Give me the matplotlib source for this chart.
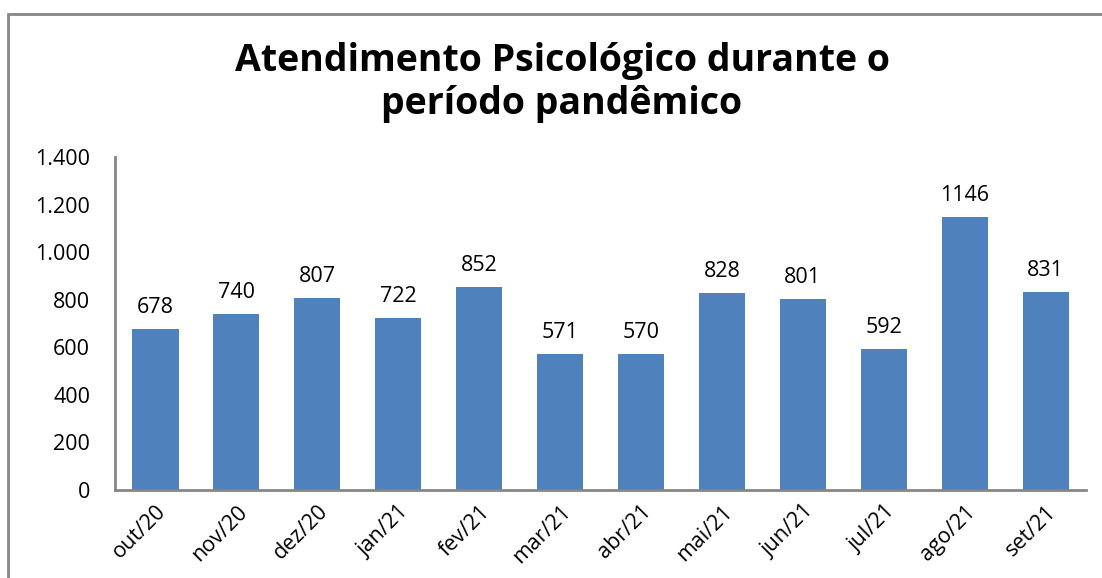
import matplotlib
matplotlib.use("Agg")
import matplotlib.pyplot as plt
from matplotlib.ticker import FuncFormatter
from matplotlib.patches import Rectangle

meses = ["out/20", "nov/20", "dez/20", "jan/21", "fev/21", "mar/21",
         "abr/21", "mai/21", "jun/21", "jul/21", "ago/21", "set/21"]
atendimentos = [678, 740, 807, 722, 852, 571, 570, 828, 801, 592, 1146, 831]
yticks = [0, 200, 400, 600, 800, 1000, 1200, 1400]

plt.rcParams["font.family"] = ["Open Sans", "DejaVu Sans"]

fig = plt.figure(figsize=(11.02, 5.78), dpi=100)
ax = fig.add_axes([0.1044, 0.1522, 0.8811, 0.5762])

x = range(len(meses))
ax.bar(x, atendimentos, width=0.57, color="#4F81BD")

for xi, v in zip(x, atendimentos):
    ax.annotate(str(v), (xi, v), xytext=(0, 8), textcoords="offset points",
                ha="center", va="bottom", fontsize=15.5, color="#000000")

ax.set_xlim(-0.5, len(meses) - 0.5)
ax.set_ylim(0, 1400)
ax.set_yticks(yticks)
ax.yaxis.set_major_formatter(FuncFormatter(lambda v, p: f"{int(v):,}".replace(",", ".")))
ax.set_xticks(list(x))
ax.set_xticklabels(meses, rotation=45, ha="right", rotation_mode="anchor")
ax.tick_params(axis="y", length=0, pad=18, labelsize=15.5)
ax.tick_params(axis="x", length=0, pad=8, labelsize=15.5)

for s in ["top", "right"]:
    ax.spines[s].set_visible(False)
for s in ["left", "bottom"]:
    ax.spines[s].set_color("#868686")
    ax.spines[s].set_linewidth(2)

fig.text(0.51, 0.857, "Atendimento Psicológico durante o\nperíodo pandêmico",
         ha="center", va="center", fontsize=27, fontweight="bold", linespacing=1.19)

# chart frame (cropped at right and bottom)
fig.patches.append(Rectangle((8 / 1102, -0.05), 1.2, 1 - 14 / 578 + 0.05,
                             transform=fig.transFigure, fill=False,
                             edgecolor="#868686", linewidth=2))

fig.savefig("out.png", dpi=100)
